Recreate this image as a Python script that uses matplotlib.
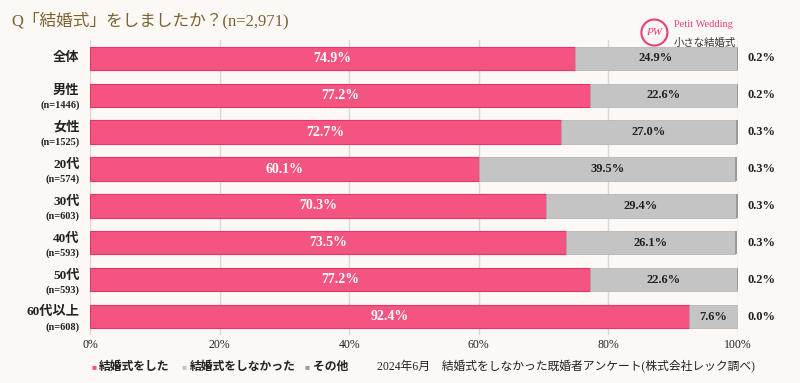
import matplotlib.pyplot as plt
from matplotlib.patches import Circle

plt.rcParams['font.family'] = ['Liberation Serif', 'Noto Sans CJK JP']

groups = ['全体', '男性', '女性', '20代', '30代', '40代', '50代', '60代以上']
counts = ['', '(n=1446)', '(n=1525)', '(n=574)', '(n=603)', '(n=593)', '(n=593)', '(n=608)']
did = [74.9, 77.2, 72.7, 60.1, 70.3, 73.5, 77.2, 92.4]
did_not = [24.9, 22.6, 27.0, 39.5, 29.4, 26.1, 22.6, 7.6]
other = [0.2, 0.2, 0.3, 0.3, 0.3, 0.3, 0.2, 0.0]
series_names = ['結婚式をした', '結婚式をしなかった', 'その他']

bg = '#fbf8f5'
pink = '#f45480'
pink_edge = '#e8336a'
grey = '#c4c4c4'
brown = '#7a6330'

fig = plt.figure(figsize=(8, 3.83), dpi=100, facecolor=bg)
ax = fig.add_axes([0.1125, 0.125, 0.81, 0.771])
ax.set_facecolor(bg)

y = list(range(len(groups)))
h = 0.63
ax.barh(y, did, height=h, color=pink, edgecolor=pink_edge, linewidth=0.8, zorder=3)
ax.barh(y, did_not, left=did, height=h, color=grey, edgecolor='#b0b0b0', linewidth=0.5, zorder=3)
lefts = [a + b for a, b in zip(did, did_not)]
ax.barh(y, other, left=lefts, height=h, color='#9a9a9a', linewidth=0, zorder=3)

for i in y:
    ax.text(did[i] / 2, i, f'{did[i]:.1f}%', ha='center', va='center',
            color='white', fontsize=10, fontweight='bold', zorder=4)
    ax.text(did[i] + did_not[i] / 2, i, f'{did_not[i]:.1f}%', ha='center', va='center',
            color='#222222', fontsize=9, fontweight='bold', zorder=4)
    ax.text(101.5, i, f'{other[i]:.1f}%', ha='left', va='center',
            color='#222222', fontsize=9, fontweight='bold')
    if counts[i]:
        ax.text(-1.6, i - 0.12, groups[i], ha='right', va='center', fontsize=9.5,
                fontweight='bold', color='#222222')
        ax.text(-1.6, i + 0.28, counts[i], ha='right', va='center', fontsize=7.5,
                fontweight='bold', color='#222222')
    else:
        ax.text(-1.6, i, groups[i], ha='right', va='center', fontsize=9.5,
                fontweight='bold', color='#222222')

ax.set_xlim(0, 100)
ax.set_ylim(len(groups) - 0.5, -0.5)
ax.set_xticks([0, 20, 40, 60, 80, 100])
ax.set_xticklabels(['0%', '20%', '40%', '60%', '80%', '100%'], fontsize=8.5)
ax.set_yticks([])
ax.tick_params(axis='x', length=0, pad=3, colors='#222222')
ax.grid(axis='x', color='#d8d8d8', linewidth=1, zorder=0)
for s in ax.spines.values():
    s.set_visible(False)

# title
fig.text(0.014, 0.945, 'Q「結婚式」をしましたか？(n=2,971)', fontsize=12,
         color=brown, ha='left', va='center')

# logo
lx, ly = 0.818, 0.915
fig.patches.append(Circle((lx * 800, ly * 383), 13, transform=None, fill=False,
                          edgecolor='#ec3f72', linewidth=1.5))
fig.text(lx, ly, 'PW', fontsize=8, color='#ec3f72', style='italic', ha='center', va='center')
fig.text(0.842, 0.937, 'Petit Wedding', fontsize=7.5, color='#ec3f72', ha='left', va='center')
fig.text(0.842, 0.887, '小さな結婚式', fontsize=7.5, color='#333333', ha='left', va='center')

# legend
leg_colors = [pink, grey, '#9a9a9a']
leg_x = [0.114, 0.227, 0.381]
for lxp, c, name in zip(leg_x, leg_colors, series_names):
    fig.text(lxp, 0.042, '■', fontsize=6, color=c, ha='left', va='center')
    fig.text(lxp + 0.01, 0.042, name, fontsize=8.5, fontweight='bold', color='#222222',
             ha='left', va='center')

fig.text(0.944, 0.042, '2024年6月　結婚式をしなかった既婚者アンケート(株式会社レック調べ)',
         fontsize=8.5, color='#222222', ha='right', va='center')

fig.savefig('out.png', dpi=100, facecolor=bg)
